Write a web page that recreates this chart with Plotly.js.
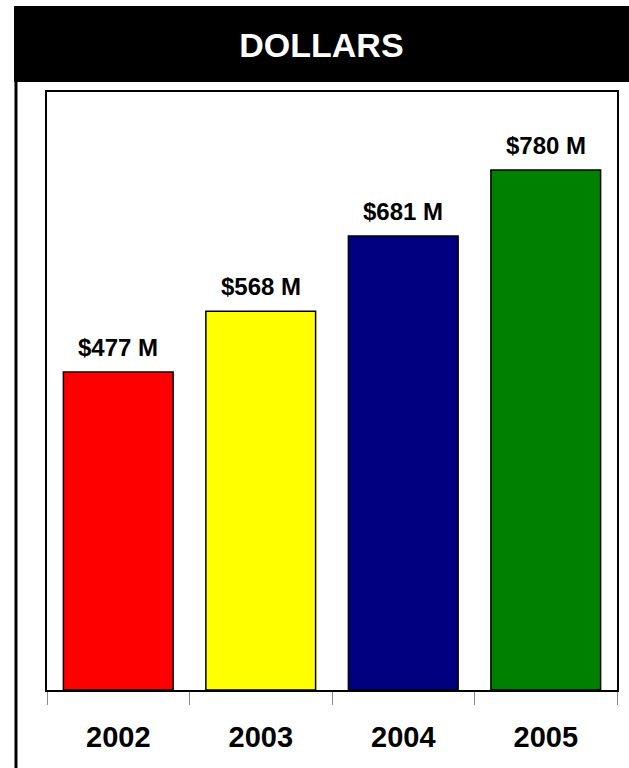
<!DOCTYPE html>
<html>
<head>
<meta charset="utf-8">
<script src="https://cdn.plot.ly/plotly-3.0.1.min.js"></script>
<style>html,body{margin:0;padding:0;background:#fff;}#chart{width:629px;height:768px;}</style>
</head>
<body>
<div id="chart"></div>
<script>
const years = ["2002", "2003", "2004", "2005"];
const dollars = [477, 568, 681, 780];
const valueLabels = ["$477 M", "$568 M", "$681 M", "$780 M"];
const barColors = ["#FF0000", "#FFFF00", "#000080", "#008000"];
const chartTitle = "DOLLARS";

const trace = {
  type: "bar",
  x: years,
  y: dollars,
  marker: {color: barColors, line: {color: "#000", width: 1.5}},
  hoverinfo: "none"
};

const annotations = years.map((yr, i) => ({
  x: i, y: dollars[i], xref: "x", yref: "y",
  text: "<b>" + valueLabels[i] + "</b>",
  showarrow: false, yanchor: "bottom", yshift: 9,
  font: {family: "Liberation Sans, Arial, sans-serif", size: 24, color: "#000"}
}));

const layout = {
  width: 629, height: 768,
  margin: {l: 47, r: 12, t: 92, b: 78},
  paper_bgcolor: "#fff", plot_bgcolor: "#fff",
  showlegend: false,
  bargap: 0.23,
  title: {
    text: "<b>" + chartTitle + "</b>",
    x: 0.511, xanchor: "center", y: 1 - 45/768, yanchor: "middle",
    font: {family: "Liberation Sans, Arial, sans-serif", size: 34, color: "#fff"}
  },
  xaxis: {
    type: "category",
    range: [-0.5, years.length - 0.5],
    showline: true, linecolor: "#000", linewidth: 2, mirror: true,
    ticks: "outside", ticklen: 13, tickcolor: "#888", tickwidth: 1,
    tickson: "boundaries", ticklabelstandoff: 20,
    tickfont: {family: "Liberation Sans, Arial, sans-serif", size: 29, color: "#000", weight: "bold"},
    showgrid: false, zeroline: false, fixedrange: true
  },
  yaxis: {
    range: [0, 897],
    showline: true, linecolor: "#000", linewidth: 2, mirror: true,
    showticklabels: false, ticks: "", showgrid: false, zeroline: false, fixedrange: true
  },
  shapes: [
    {type: "rect", xref: "paper", yref: "paper", x0: -0.0579, x1: 1.03, y0: 1.0167, y1: 1.1438,
     fillcolor: "#000", line: {width: 0}, layer: "below"},
    {type: "line", xref: "paper", yref: "paper", x0: -0.0544, x1: -0.0544, y0: 1.0167, y1: -0.14,
     line: {color: "#000", width: 3}, layer: "below"}
  ],
  annotations: annotations
};

Plotly.newPlot("chart", [trace], layout, {displayModeBar: false, staticPlot: true});
</script>
</body>
</html>
